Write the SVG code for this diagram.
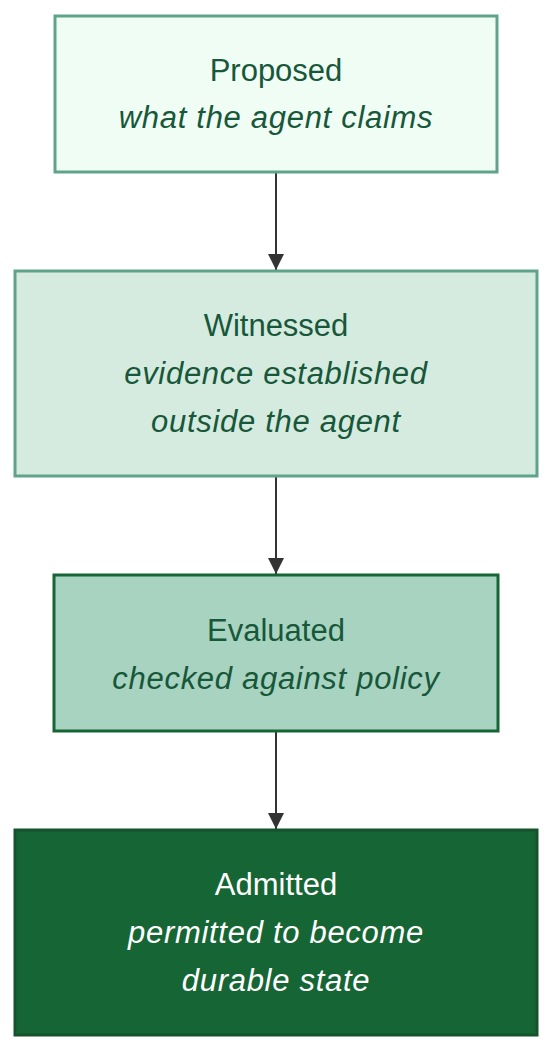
<svg xmlns="http://www.w3.org/2000/svg" width="552" height="1051" viewBox="0 0 552 1051">
<style>
.t{font-family:"Liberation Sans",Arial,sans-serif;font-size:31px;text-anchor:middle}
.i{font-style:italic;letter-spacing:0.7px}
.dk{fill:#17573a}
.lt{fill:#ffffff}
.edge{stroke:#333333;stroke-width:2;fill:none}
</style>
<defs>
<marker id="arr" markerWidth="16" markerHeight="16" refX="16" refY="8" orient="auto" markerUnits="userSpaceOnUse">
<path d="M0,0 L16,8 L0,16 Z" fill="#333333"/>
</marker>
</defs>
<rect width="552" height="1051" fill="#ffffff"/>
<g id="connectors">
<line class="edge" x1="276" y1="173" x2="276" y2="270" marker-end="url(#arr)"/>
<line class="edge" x1="276" y1="477" x2="276" y2="574" marker-end="url(#arr)"/>
<line class="edge" x1="276" y1="732" x2="276" y2="829" marker-end="url(#arr)"/>
</g>
<g id="proposed">
<rect x="55" y="16" width="442" height="156" fill="#f0fdf4" stroke="#5fa38a" stroke-width="3"/>
<text class="t dk" x="276" y="81">Proposed</text>
<text class="t i dk" x="276" y="128">what the agent claims</text>
</g>
<g id="witnessed">
<rect x="15" y="271" width="522" height="205" fill="#d5ebdf" stroke="#5fa38a" stroke-width="3"/>
<text class="t dk" x="276" y="336">Witnessed</text>
<text class="t i dk" x="276" y="384">evidence established</text>
<text class="t i dk" x="276" y="432">outside the agent</text>
</g>
<g id="evaluated">
<rect x="54" y="575" width="444" height="156" fill="#a8d3c0" stroke="#166534" stroke-width="3"/>
<text class="t dk" x="276" y="641">Evaluated</text>
<text class="t i dk" x="276" y="689">checked against policy</text>
</g>
<g id="admitted">
<rect x="15" y="830" width="522" height="205" fill="#166534" stroke="#14532d" stroke-width="3"/>
<text class="t lt" x="276" y="895">Admitted</text>
<text class="t i lt" x="276" y="943">permitted to become</text>
<text class="t i lt" x="276" y="991">durable state</text>
</g>
</svg>
